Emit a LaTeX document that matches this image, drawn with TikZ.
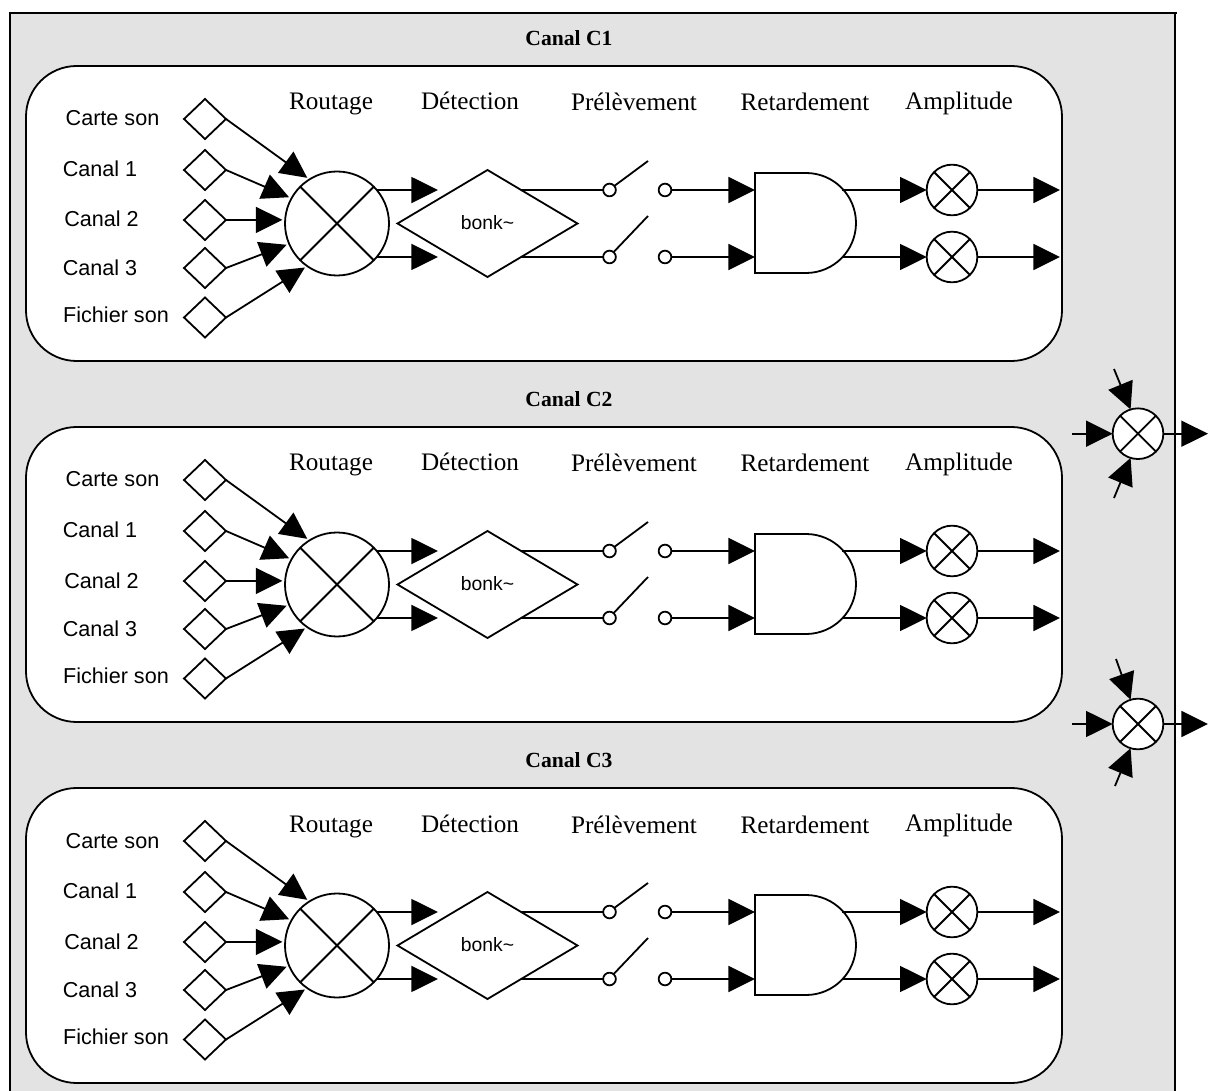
\documentclass[tikz,border=0pt]{standalone}
\usepackage{fontspec}
\setmainfont{Liberation Serif}
\setsansfont{Liberation Sans}
\usetikzlibrary{arrows.meta,shapes.geometric}
\definecolor{framegray}{HTML}{E3E3E3}
\tikzset{
  lw/.style={line width=1.35pt},
  conn/.style={lw,-{Triangle[length=20pt,width=19.5pt]}},
  plain/.style={lw},
  panel/.style={draw,lw,fill=white,rounded corners=38pt},
  inport/.style={diamond,draw,lw,fill=white,minimum width=31.5pt,minimum height=30pt,inner sep=0pt,outer sep=0pt},
  bonkbox/.style={diamond,draw,lw,fill=white,minimum width=135pt,minimum height=80.25pt,inner sep=0pt,outer sep=0pt,font=\sffamily\fontsize{14.5}{16}\selectfont},
  bigmix/.style={circle,draw,lw,fill=white,minimum size=78pt,inner sep=0pt,outer sep=0pt},
  smallmix/.style={circle,draw,lw,fill=white,minimum size=38pt,inner sep=0pt,outer sep=0pt},
  contact/.style={circle,draw,lw,fill=white,minimum size=9.5pt,inner sep=0pt,outer sep=0pt},
  srclabel/.style={font=\sffamily\fontsize{16.2}{18}\selectfont,inner sep=0pt,anchor=base},
  collabel/.style={font=\fontsize{18.9}{21}\selectfont,inner sep=0pt,anchor=base},
  titlelabel/.style={font=\bfseries\fontsize{16.2}{18}\selectfont,inner sep=0pt,anchor=base},
  delaybox/.style={minimum width=75pt,minimum height=75pt,inner sep=0pt,outer sep=0pt}
}
\newcommand{\mixcross}[1]{%
  \draw[plain] (#1.135) -- (#1.-45);
  \draw[plain] (#1.45) -- (#1.-135);
}
\newcommand{\chanblock}[3]{%
\begin{scope}[shift={(0,#2)}]
  \draw[panel] (26,66) rectangle (1062,361);
  \node[titlelabel] (#1title) at (569,45.7) {#3};
  \node[collabel] (#1cr) at (331,110) {Routage};
  \node[collabel] (#1cd) at (470,110) {Détection};
  \node[collabel] (#1cp) at (634,111) {Prélèvement};
  \node[collabel] (#1cq) at (805,111) {Retardement};
  \node[collabel] (#1ca) at (959,109.5) {Amplitude};
  \node[srclabel] (#1l1) at (112.5,126) {Carte son};
  \node[srclabel] (#1l2) at (100,176.7) {Canal 1};
  \node[srclabel] (#1l3) at (101.5,227) {Canal 2};
  \node[srclabel] (#1l4) at (100,275.7) {Canal 3};
  \node[srclabel] (#1l5) at (116,322.7) {Fichier son};
  \node[inport] (#1d1) at (205,119) {};
  \node[inport] (#1d2) at (205,170) {};
  \node[inport] (#1d3) at (205,220) {};
  \node[inport] (#1d4) at (205,268) {};
  \node[inport] (#1d5) at (205,317.5) {};
  \node[bigmix] (#1R) at (337,223.5) {};
  \mixcross{#1R}
  \draw[conn,shorten >=2pt] (#1d1.east) -- (#1R.122);
  \draw[conn,shorten >=2pt] (#1d2.east) -- (#1R.151);
  \draw[conn,shorten >=2pt] (#1d3.east) -- (#1R.176.2);
  \draw[conn,shorten >=2pt] (#1d4.east) -- (#1R.203);
  \draw[conn,shorten >=2pt] (#1d5.east) -- (#1R.235);
  \node[bonkbox] (#1B) at (487.5,223.5) {\raisebox{1.8pt}{bonk\char`\~}};
  \coordinate (#1o1) at (438,190);
  \coordinate (#1o2) at (438,257);
  \draw[conn] (#1R.40.1) -- (#1o1);
  \draw[conn] (#1R.-40.1) -- (#1o2);
  \node[contact] (#1s1) at (609.5,190) {};
  \node[contact] (#1s2) at (609.5,257) {};
  \node[contact] (#1t1) at (665,190) {};
  \node[contact] (#1t2) at (665,257) {};
  \draw[plain] (#1B.45) -- (#1s1.west);
  \draw[plain] (#1B.-45) -- (#1s2.west);
  \coordinate (#1a1) at (648,161);
  \coordinate (#1a2) at (648,216);
  \draw[plain] (#1s1.40) -- (#1a1);
  \draw[plain] (#1s2.50) -- (#1a2);
  \node[delaybox] (#1Q) at (805,223) {};
  \draw[lw,fill=white] (755,173) -- (806,173) arc[start angle=90,end angle=-90,radius=37.5pt] -- (755,273) -- cycle;
  \coordinate (#1qi1) at (755,190);
  \coordinate (#1qi2) at (755,257);
  \coordinate (#1qo1) at (842,190);
  \coordinate (#1qo2) at (842,257);
  \draw[conn] (#1t1.east) -- (#1qi1);
  \draw[conn] (#1t2.east) -- (#1qi2);
  \node[smallmix] (#1A1) at (952,190) {};
  \node[smallmix] (#1A2) at (952,257) {};
  \mixcross{#1A1}
  \mixcross{#1A2}
  \draw[conn] (#1qo1) -- (#1A1.west);
  \draw[conn] (#1qo2) -- (#1A2.west);
  \coordinate (#1e1) at (1060,190);
  \coordinate (#1e2) at (1060,257);
  \draw[conn] (#1A1.east) -- (#1e1);
  \draw[conn] (#1A2.east) -- (#1e2);
\end{scope}}
\begin{document}
\begin{tikzpicture}[x=0.75pt,y=-0.75pt]
  \useasboundingbox (0,0) rectangle (1208,1091);
  \fill[white] (0,0) rectangle (1208,1091);
  \fill[framegray] (10,13) rectangle (1175,1091);
  \draw[line width=1.5pt] (10,1091) -- (10,13) -- (1177,13);
  \draw[line width=1.5pt] (1175,13) -- (1175,1091);
  \chanblock{a}{0}{Canal C1}
  \chanblock{b}{361}{Canal C2}
  \chanblock{c}{722}{Canal C3}
  % summing junctions
  \node[smallmix] (m1) at (1138,433.7) {};
  \node[smallmix] (m2) at (1138,724) {};
  \mixcross{m1}
  \mixcross{m2}
  \coordinate (m1l) at (1072,433.7);
  \coordinate (m1t) at (1114,369);
  \coordinate (m1b) at (1114,498);
  \coordinate (m1o) at (1208,433.7);
  \coordinate (m2l) at (1072,724);
  \coordinate (m2t) at (1116,659);
  \coordinate (m2b) at (1115,786);
  \coordinate (m2o) at (1208,724);
  \draw[conn] (m1l) -- (m1.west);
  \draw[conn] (m1t) -- (m1.107);
  \draw[conn] (m1b) -- (m1.-107);
  \draw[conn] (m1.east) -- (m1o);
  \draw[conn] (m2l) -- (m2.west);
  \draw[conn] (m2t) -- (m2.107);
  \draw[conn] (m2b) -- (m2.-107);
  \draw[conn] (m2.east) -- (m2o);
\end{tikzpicture}
\end{document}
